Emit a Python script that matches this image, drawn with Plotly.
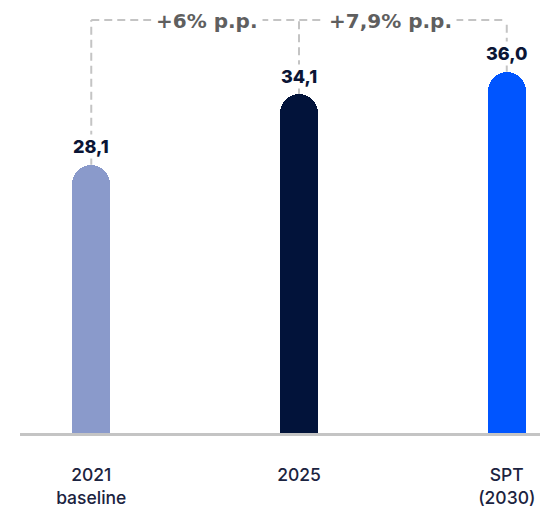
import plotly.graph_objects as go

# Data
categories = ["2021<br>baseline", "2025", "SPT<br>(2030)"]
values = [28.1, 34.1, 36.0]
value_labels = ["28,1", "34,1", "36,0"]
bar_colors = ["#8a9acb", "#02133a", "#0055ff"]
delta_labels = ["+6% p.p.", "+7,9% p.p."]

# Layout constants
Y_MIN, Y_MAX = 5.3, 42.1
BRACKET_Y = 40.4
DELTA_X = [0.555, 1.44]
BAR_WIDTH = 0.183
X_RANGE = [-0.343, 2.160]

LINE_GRAY = "#c4c4c4"
TEXT_NAVY = "#0b1535"

fig = go.Figure(
    go.Bar(
        x=list(range(len(categories))),
        y=values,
        width=BAR_WIDTH,
        marker=dict(color=bar_colors, cornerradius=19, line=dict(width=0)),
        hoverinfo="skip",
    )
)

# Dashed bracket: verticals from each bar top up to the bracket, joined on top
dash = "8px,5px"
for i, v in enumerate(values):
    fig.add_shape(
        type="line", xref="x", yref="y",
        x0=i, x1=i, y0=v, y1=BRACKET_Y,
        line=dict(color=LINE_GRAY, width=2, dash=dash),
        layer="below",
    )
fig.add_shape(
    type="line", xref="x", yref="y",
    x0=0, x1=len(values) - 1, y0=BRACKET_Y, y1=BRACKET_Y,
    line=dict(color=LINE_GRAY, width=2, dash=dash),
    layer="below",
)

# Value labels above bars
for i, (v, lab) in enumerate(zip(values, value_labels)):
    fig.add_annotation(
        x=i, y=v, text=lab, showarrow=False,
        yanchor="middle", yshift=18,
        font=dict(family="Inter", size=18, color=TEXT_NAVY, weight=800),
        bgcolor="white", borderpad=1,
    )

# Change labels on the bracket
for x, lab in zip(DELTA_X, delta_labels):
    fig.add_annotation(
        x=x, y=BRACKET_Y, text=lab, showarrow=False,
        yanchor="middle", yshift=-1,
        font=dict(family="DejaVu Sans", size=20, color="#5f5f5f", weight="bold"),
        bgcolor="white", borderpad=4,
    )

fig.update_layout(
    width=540, height=511,
    margin=dict(l=20, r=0, t=0, b=78),
    paper_bgcolor="white", plot_bgcolor="white",
    showlegend=False,
    bargap=0,
    xaxis=dict(
        range=X_RANGE,
        tickvals=list(range(len(categories))),
        ticktext=categories,
        showline=True, linecolor=LINE_GRAY, linewidth=2.5,
        ticks="", showgrid=False, zeroline=False,
        tickfont=dict(family="Inter", size=17.5, color="#1b2340", weight=500),
        ticklabelstandoff=24,
        fixedrange=True,
    ),
    yaxis=dict(range=[Y_MIN, Y_MAX], visible=False, showgrid=False, zeroline=False),
)

fig.write_html("out.html")
